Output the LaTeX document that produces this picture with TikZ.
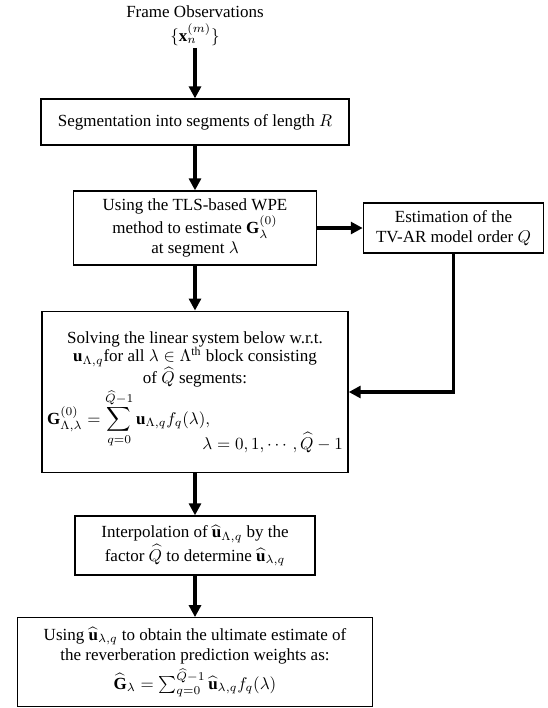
\documentclass[tikz,border=0pt]{standalone}
\usepackage{fontspec}
\setmainfont{Liberation Serif}
\usepackage{amsmath,amssymb}
\usetikzlibrary{arrows.meta}

\begin{document}
\begin{tikzpicture}[x=0.588pt,y=-0.588pt,
	block/.style={draw,thick,align=flush center,inner xsep=3pt,inner ysep=2pt},
	flow/.style={-{Triangle[length=7pt,width=7pt]},line width=2pt}]
	\useasboundingbox (0,0) rectangle (548,708);
	\node[align=center,inner sep=1pt] (obs) at (195,26) {Frame Observations\\[2pt]$\{\mathbf{x}_n^{(m)}\}$};
	\node[block,text width=175pt,minimum height=27pt] (seg) at (195,122) {Segmentation into segments of length $R$};
	\node[block,text width=137pt,minimum height=43.5pt] (tls) at (195,228) {Using the TLS-based WPE\\method to estimate $\mathbf{G}_\lambda^{(0)}$\\at segment $\lambda$};
	\node[block,text width=100pt,minimum height=29.4pt] (order) at (453.5,228) {Estimation of the\\TV-AR model order $Q$};
	\node[block,text width=174pt,minimum height=95pt] (solve) at (195,392) {Solving the linear system below w.r.t.\\[-1pt]
		$\mathbf{u}_{\Lambda,q}$for all $\lambda\in\Lambda^{\mathrm{th}}$ block consisting\\[-1pt]
		of $\widehat{Q}$ segments:\\
		\makebox[\hsize][l]{$\displaystyle\mathbf{G}^{(0)}_{\Lambda,\lambda}=\sum_{q=0}^{\widehat{Q}-1}\mathbf{u}_{\Lambda,q}f_q(\lambda),$}\\[-10pt]
		\makebox[\hsize][r]{$\lambda=0,1,\cdots,\widehat{Q}-1$}};
	\node[block,text width=135pt,minimum height=34.7pt] (interp) at (195,545.5) {Interpolation of $\widehat{\mathbf{u}}_{\Lambda,q}$ by the\\factor $\widehat{Q}$ to determine $\widehat{\mathbf{u}}_{\lambda,q}$};
	\node[block,text width=203pt,minimum height=52pt] (final) at (195,662) {Using $\widehat{\mathbf{u}}_{\lambda,q}$ to obtain the ultimate estimate of\\the reverberation prediction weights as:\\[2pt]$\widehat{\mathbf{G}}_\lambda=\sum_{q=0}^{\widehat{Q}-1}\widehat{\mathbf{u}}_{\lambda,q}f_q(\lambda)$};
	\draw[flow] (obs) -- (seg);
	\draw[flow] (seg) -- (tls);
	\draw[flow] (tls) -- (order);
	\draw[flow] (tls) -- (solve);
	\draw[flow] (order.south) |- (solve.east);
	\draw[flow] (solve) -- (interp);
	\draw[flow] (interp) -- (final);
\end{tikzpicture}
\end{document}
